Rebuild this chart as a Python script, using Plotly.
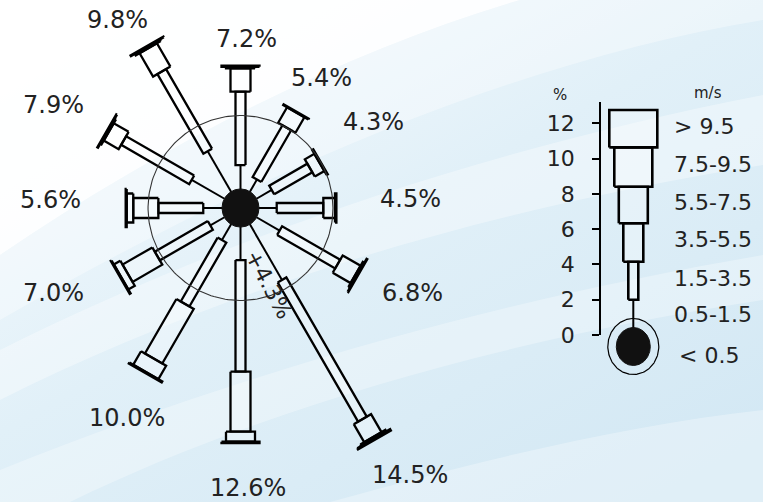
import base64
import numpy as np
import plotly.graph_objects as go

# ---------------- DATA ----------------
directions = [0, 30, 60, 90, 120, 150, 180, 210, 240, 270, 300, 330]
dir_totals = ["7.2%", "5.4%", "4.3%", "4.5%", "6.8%", "14.5%", "12.6%", "10.0%", "7.0%", "5.6%", "7.9%", "9.8%"]
speed_classes = ["< 0.5", "0.5-1.5", "1.5-3.5", "3.5-5.5", "5.5-7.5", "7.5-9.5", "> 9.5"]
# frequency (%) per speed class for each direction
s_05_15 = [1.42, 0.84, 1.02, 1.03, 1.55, 3.75, 1.95, 1.08, 0.95, 1.09, 2.20, 2.74]
s_15_35 = [4.27, 3.47, 2.56, 2.71, 3.90, 9.35, 6.49, 4.29, 3.56, 2.61, 4.57, 5.34]
s_35_55 = [1.36, 1.04, 0.64, 0.68, 1.20, 1.21, 3.49, 3.66, 2.00, 1.46, 1.00, 1.57]
s_55_75 = [0.08, 0.05, 0.08, 0.08, 0.10, 0.10, 0.58, 0.90, 0.43, 0.38, 0.08, 0.10]
s_75_95 = [0.07, 0.00, 0.00, 0.00, 0.05, 0.09, 0.09, 0.07, 0.06, 0.06, 0.05, 0.05]
s_gt95 = [0.0] * 12
ring_pct = 4.3
ring_label = "+4.3%"
# legend key
legend_ticks = [0, 2, 4, 6, 8, 10, 12]
legend_segments = [2.0, 2.15, 2.18, 2.07, 2.23, 2.12]
legend_axis_top = 13.18

# ---------------- STYLE / LAYOUT CONSTANTS ----------------
W, H = 763, 502
S = 17.2            # px per % in rose
CX, CY = 240.5, 208 # rose centre in px
R0 = 18.5 / S       # calm disc radius (units)
WID_PX = [2, 10, 20, 29, 38, 48]  # widths of speed classes 0.5-1.5 ... >9.5
SL = 17.65          # px per % in legend
L_AXIS_X = 601      # legend axis line (px)
L_ZERO_Y = 335      # legend 0 tick (px)
L_BAR_X = 633.3
FONT = "DejaVu Sans"
TXT = "#222222"
BOXFILL = "rgba(255,255,255,0.28)"

classes = [s_05_15, s_15_35, s_35_55, s_55_75, s_75_95, s_gt95]

fig = go.Figure()

def add_poly(xs, ys, xa, ya, fill, lw, lc="black"):
    fig.add_trace(go.Scatter(x=xs, y=ys, xaxis=xa, yaxis=ya, mode="lines", fill="toself",
                             fillcolor=fill, line=dict(color=lc, width=lw),
                             hoverinfo="skip", showlegend=False))

# ---- rose spokes ----
lx, ly = [], []
for i, th in enumerate(directions):
    t = np.radians(th)
    ux, uy = np.sin(t), np.cos(t)
    r1 = R0 + classes[0][i]
    lx += [R0 * ux, r1 * ux, None]
    ly += [R0 * uy, r1 * uy, None]
fig.add_trace(go.Scatter(x=lx, y=ly, mode="lines", line=dict(color="black", width=2),
                         hoverinfo="skip", showlegend=False))

for k in range(1, 6):
    xs, ys = [], []
    hw = WID_PX[k] / 2 / S
    for i, th in enumerate(directions):
        v = classes[k][i]
        if v <= 0:
            continue
        cum0 = sum(classes[j][i] for j in range(k))
        ra, rb = R0 + cum0, R0 + cum0 + v
        t = np.radians(th)
        ux, uy = np.sin(t), np.cos(t)
        px, py = np.cos(t), -np.sin(t)
        pts = [(ra * ux + hw * px, ra * uy + hw * py), (rb * ux + hw * px, rb * uy + hw * py),
               (rb * ux - hw * px, rb * uy - hw * py), (ra * ux - hw * px, ra * uy - hw * py)]
        pts.append(pts[0])
        xs += [p[0] for p in pts] + [None]
        ys += [p[1] for p in pts] + [None]
    add_poly(xs, ys, "x", "y", BOXFILL, 2.3)

# reference circle
tt = np.linspace(0, 2 * np.pi, 200)
rr = R0 + ring_pct
fig.add_trace(go.Scatter(x=rr * np.cos(tt), y=rr * np.sin(tt), mode="lines",
                         line=dict(color="#333333", width=1.1), hoverinfo="skip", showlegend=False))
# calm disc
add_poly(list(R0 * np.cos(tt)), list(R0 * 1.03 * np.sin(tt)), "x", "y", "#111111", 1, "#111111")

# ---- legend key ----
lbx = (L_BAR_X - L_AXIS_X) / SL
ex = 17.0 / SL
ey = 19.0 / SL
ecy = (L_ZERO_Y - 346.5) / SL
fig.add_trace(go.Scatter(x=lbx + 25.5 / SL * np.cos(tt), y=ecy + 28.0 / SL * np.sin(tt), xaxis="x2", yaxis="y2",
                         mode="lines", line=dict(color="black", width=1.2), hoverinfo="skip", showlegend=False))
cum = np.cumsum(legend_segments)
fig.add_trace(go.Scatter(x=[lbx, lbx], y=[ecy + ey * 0.5, cum[0]], xaxis="x2", yaxis="y2", mode="lines",
                         line=dict(color="black", width=2), hoverinfo="skip", showlegend=False))
for k in range(1, 6):
    hw = WID_PX[k] / 2 / SL
    y0, y1 = cum[k - 1], cum[k]
    add_poly([lbx - hw, lbx + hw, lbx + hw, lbx - hw, lbx - hw], [y0, y0, y1, y1, y0], "x2", "y2", BOXFILL, 2.6)
add_poly(list(lbx + ex * np.cos(tt)), list(ecy + ey * np.sin(tt)), "x2", "y2", "#111111", 1, "#111111")
fig.add_trace(go.Scatter(x=[0.5], y=[6], xaxis="x2", yaxis="y3", mode="markers",
                         marker=dict(opacity=0), hoverinfo="skip", showlegend=False))

# ---------------- annotations ----------------
def pxd(px, py):
    return (px - CX) / S, (CY - py) / S

label_px = [(246, 39), (321, 78), (373.5, 122), (410, 199), (412, 293), (410, 475),
            (248, 488), (126.5, 418), (53.5, 293), (50, 200), (53.5, 105), (117, 20)]
ann = []
for lab, (px, py) in zip(dir_totals, label_px):
    x, y = pxd(px, py)
    ann.append(dict(x=x, y=y, xref="x", yref="y", text=lab, showarrow=False,
                    font=dict(family=FONT, size=24, color=TXT), xanchor="center", yanchor="middle"))
ta = np.radians(159.5)
rl = R0 + ring_pct - 0.65
ann.append(dict(x=rl * np.sin(ta), y=rl * np.cos(ta), xref="x", yref="y", text=ring_label, showarrow=False,
                textangle=62, font=dict(family=FONT, size=22, color=TXT), xanchor="center", yanchor="middle"))

mids = [(cum[k - 1] + cum[k]) / 2 if k > 0 else cum[0] / 2 for k in range(6)]
lab_x = (672 - L_AXIS_X) / SL
for k in range(6):
    ann.append(dict(x=lab_x, y=mids[k] + 0.15, xref="x2", yref="y2", text=speed_classes[k + 1], showarrow=False,
                    font=dict(family=FONT, size=22, color=TXT), xanchor="left", yanchor="middle"))
ann.append(dict(x=(677 - L_AXIS_X) / SL, y=ecy - 0.5, xref="x2", yref="y2", text=speed_classes[0], showarrow=False,
                font=dict(family=FONT, size=22, color=TXT), xanchor="left", yanchor="middle"))
ann.append(dict(x=559.5 / W, y=1 - 95 / H, xref="paper", yref="paper", text="%", showarrow=False,
                font=dict(family=FONT, size=15, color=TXT), xanchor="center", yanchor="middle"))
ann.append(dict(x=708 / W, y=1 - 93 / H, xref="paper", yref="paper", text="m/s", showarrow=False,
                font=dict(family=FONT, size=15, color=TXT), xanchor="center", yanchor="middle"))

# ---------------- background ----------------
svg = f"""<svg xmlns='http://www.w3.org/2000/svg' width='{W}' height='{H}' viewBox='0 0 {W} {H}' preserveAspectRatio='none'>
<defs><linearGradient id='g' x1='0' y1='0' x2='0.85' y2='1'>
<stop offset='0' stop-color='#ffffff'/><stop offset='0.22' stop-color='#eff7fc'/>
<stop offset='0.5' stop-color='#e1f0f8'/><stop offset='1' stop-color='#d3e8f4'/></linearGradient></defs>
<rect width='{W}' height='{H}' fill='url(#g)'/>
<path d='M0,0 L520,0 C350,50 170,140 0,255 Z' fill='#ffffff' opacity='0.9'/>
<path d='M0,255 C170,140 350,50 520,0 L763,0 L763,20 C520,60 260,170 0,320 Z' fill='#ffffff' opacity='0.35'/>
<path d='M0,350 C220,240 480,150 763,95 L763,165 C480,210 220,290 0,400 Z' fill='#ffffff' opacity='0.35'/>
<path d='M0,470 C250,370 500,300 763,255 L763,300 C500,340 260,410 70,502 L0,502 Z' fill='#ffffff' opacity='0.3'/>
<path d='M330,502 C500,455 630,425 763,410 L763,502 Z' fill='#ffffff' opacity='0.3'/>
</svg>"""
src = "data:image/svg+xml;base64," + base64.b64encode(svg.encode()).decode()

# ---------------- layout ----------------
l_dom_x0 = L_AXIS_X / W
y2_lo, y2_hi = -2.5, 14.0
y2_dom = [(H - (L_ZERO_Y - y2_lo * SL)) / H, (H - (L_ZERO_Y - y2_hi * SL)) / H]
y3_dom = [(H - L_ZERO_Y) / H, (H - (L_ZERO_Y - legend_axis_top * SL)) / H]
hidden = dict(visible=False, showgrid=False, zeroline=False, fixedrange=True)

fig.update_layout(
    autosize=True, margin=dict(l=0, r=0, t=0, b=0, autoexpand=False),
    paper_bgcolor="white", plot_bgcolor="rgba(0,0,0,0)",
    xaxis=dict(hidden, range=[-CX / S, (W - CX) / S], domain=[0, 1]),
    yaxis=dict(hidden, range=[-(H - CY) / S, CY / S], domain=[0, 1]),
    xaxis2=dict(hidden, range=[0, (W - L_AXIS_X) / SL], domain=[l_dom_x0, 1], anchor="y2"),
    yaxis2=dict(hidden, range=[y2_lo, y2_hi], domain=y2_dom, anchor="x2"),
    yaxis3=dict(range=[0, legend_axis_top], domain=y3_dom, anchor="x2", showgrid=False, zeroline=False,
                showline=True, linecolor="black", linewidth=1.6, ticks="outside", ticklen=7,
                tickwidth=1.6, tickcolor="black", tickvals=legend_ticks, ticklabelstandoff=13,
                tickfont=dict(family=FONT, size=22, color=TXT), fixedrange=True),
    annotations=ann,
    images=[dict(source=src, xref="paper", yref="paper", x=0, y=1, sizex=1, sizey=1,
                 xanchor="left", yanchor="top", sizing="stretch", layer="below")],
)

post = ("document.documentElement.style.margin='0';document.body.style.margin='0';"
        "document.documentElement.style.overflow='hidden';document.body.style.overflow='hidden';"
        "var gd=document.getElementById('{plot_id}');"
        "gd.style.position='fixed';gd.style.left='0px';gd.style.top='0px';"
        "gd.style.width='100vw';gd.style.height='100vh';"
        "return Plotly.relayout(gd,{width:window.innerWidth,height:window.innerHeight});")
fig.write_html("out.html", config={"displayModeBar": False, "responsive": True},
               default_width="100vw", default_height="100vh", post_script=post)
